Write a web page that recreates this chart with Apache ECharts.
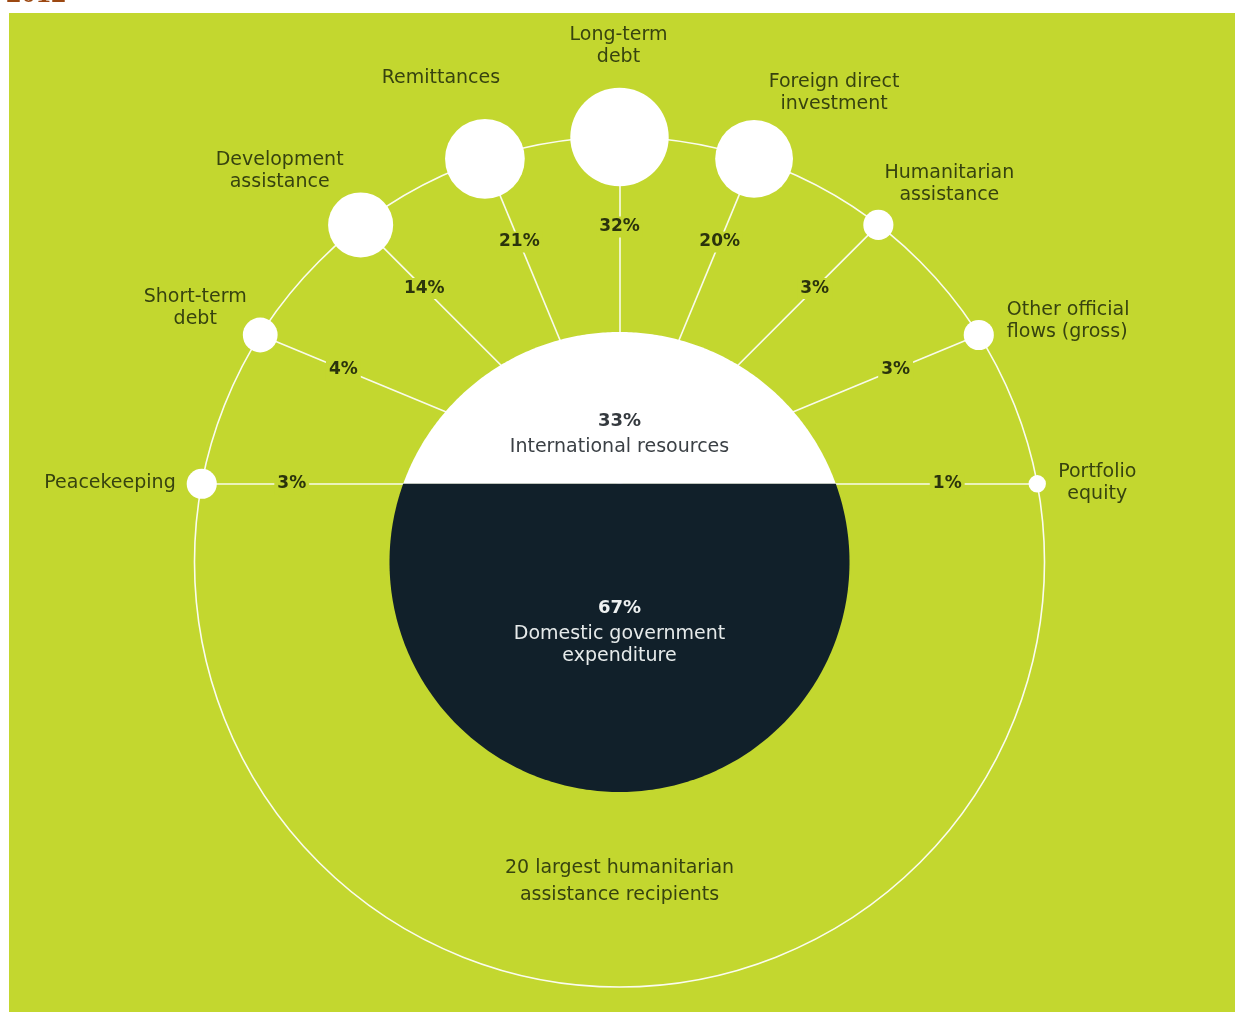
<!DOCTYPE html>
<html>
<head>
<meta charset="utf-8">
<title>Resource flows to the 20 largest humanitarian assistance recipients</title>
<style>
  html, body { margin: 0; padding: 0; background: #ffffff; }
  #chart { width: 1235px; height: 1012px; }
</style>
<script src="https://cdn.jsdelivr.net/npm/echarts@6/dist/echarts.min.js"></script>
</head>
<body>
<div id="chart"></div>
<script>
// ---- data -------------------------------------------------------------
const yearLabel = '2012';
const flowNames = [
  'Peacekeeping',
  'Short-term\ndebt',
  'Development\nassistance',
  'Remittances',
  'Long-term\ndebt',
  'Foreign direct\ninvestment',
  'Humanitarian\nassistance',
  'Other official\nflows (gross)',
  'Portfolio\nequity'
];
const flowShares = [3, 4, 14, 21, 32, 20, 3, 3, 1];          // % of international resources
const splitNames = ['International resources', 'Domestic government\nexpenditure'];
const splitShares = [33, 67];                                 // % of total resources
const footerLabel = '20 largest humanitarian\nassistance recipients';

// ---- layout & style ---------------------------------------------------
const GREEN = '#c3d72f';
const NAVY = '#11202a';
const INK = '#37430f';
const FONT = '"DejaVu Sans", sans-serif';

const CORE_R = 230;       // radius of the central resource circle
const RING_R = 425;       // radius of the outer ring carrying the bubbles
const NODE_K = 8.7;       // bubble radius per sqrt(percentage point)
const TAG_BACK = 90;      // percentage tag sits this far before its bubble centre

// the white cap takes the international share of the circle's height
const chordY = CORE_R - 2 * CORE_R * splitShares[0] / 100;
const hub = [0, chordY];  // spokes fan out from the middle of the chord

// caption placement of each flow relative to its bubble (screen px)
const captionPlacement = [
  { position: 'left', distance: 11, align: 'right', offset: [0, -1] },
  { offset: [-65, -27] },
  { offset: [-81, -54] },
  { offset: [-44, -81] },
  { offset: [-1, -91] },
  { offset: [80, -66] },
  { offset: [71, -41] },
  { offset: [28, -14], align: 'left' },
  { offset: [60, -1] }
];
// vertical position of the two captions inside the circle
const coreTextY = [chordY + (CORE_R - chordY) / 3, -68];
const footerY = -320;

// ---- geometry: spokes at equal angles, bubbles where they meet the ring --
const n = flowShares.length;
const flowPoints = flowShares.map((v, i) => {
  const a = Math.PI - i * Math.PI / (n - 1);
  const c = Math.cos(a), s = Math.sin(a);
  const t = -chordY * s + Math.sqrt(RING_R * RING_R - chordY * chordY * c * c);
  const tt = t - TAG_BACK;
  return { x: c * t, y: chordY + s * t, tx: c * tt, ty: chordY + s * tt };
});

const chart = echarts.init(document.getElementById('chart'), null, { renderer: 'canvas' });

// invisible anchor used by the text-only scatter series
const textAnchor = { symbol: 'circle', symbolSize: 0, itemStyle: { color: GREEN, opacity: 1 } };

const option = {
  animation: false,
  backgroundColor: '#ffffff',
  grid: { left: 0, right: 0, top: 0, bottom: 0 },
  xAxis: { type: 'value', min: -619.5, max: 615.5, show: false },
  yAxis: { type: 'value', min: -450, max: 562, show: false },
  graphic: [
    { type: 'rect', z: -100, silent: true,
      shape: { x: 9, y: 13, width: 1226, height: 999 },
      style: { fill: GREEN } },
    { type: 'text', z: 100, x: 6, y: -21, silent: true,
      style: { text: yearLabel, font: 'bold 30px "Liberation Serif", serif', fill: '#9c4812' } }
  ],
  series: [
    // outer ring
    {
      type: 'custom', z: 1, silent: true,
      coordinateSystem: 'cartesian2d',
      data: [[0, 0, RING_R]],
      renderItem: (params, api) => {
        const c = api.coord([0, 0]);
        const r = api.size([api.value(2), 0])[0];
        return {
          type: 'circle',
          shape: { cx: c[0], cy: c[1], r: r },
          style: { fill: 'transparent', stroke: 'rgba(255,255,255,0.92)', lineWidth: 1.6 }
        };
      }
    },
    // spokes
    {
      type: 'lines', z: 2, silent: true,
      coordinateSystem: 'cartesian2d',
      data: flowPoints.map(p => ({ coords: [hub, [p.x, p.y]] })),
      lineStyle: { color: '#ffffff', width: 1.6, opacity: 0.9 }
    },
    // central circle split into international (top) and domestic (bottom)
    {
      type: 'custom', z: 3, silent: true,
      coordinateSystem: 'cartesian2d',
      data: splitShares.map((v, i) => [0, 0, v, i]),
      renderItem: (params, api) => {
        const i = api.value(3);
        let before = 0;
        for (let k = 0; k < i; k++) before += splitShares[k];
        const yTop = CORE_R - 2 * CORE_R * before / 100;
        const yBot = CORE_R - 2 * CORE_R * (before + api.value(2)) / 100;
        const aTop = Math.asin(Math.max(-1, Math.min(1, yTop / CORE_R)));
        const aBot = Math.asin(Math.max(-1, Math.min(1, yBot / CORE_R)));
        const steps = 120;
        const pts = [];
        for (let k = 0; k <= steps; k++) {
          const a = aTop + (aBot - aTop) * k / steps;
          pts.push(api.coord([CORE_R * Math.cos(a), CORE_R * Math.sin(a)]));
        }
        for (let k = 0; k <= steps; k++) {
          const a = (Math.PI - aBot) + (aBot - aTop) * k / steps;
          pts.push(api.coord([CORE_R * Math.cos(a), CORE_R * Math.sin(a)]));
        }
        return {
          type: 'polygon',
          shape: { points: pts },
          style: { fill: i === 0 ? '#ffffff' : NAVY }
        };
      }
    },
    // bubbles, area proportional to each flow's share
    {
      type: 'scatter', z: 4, silent: true,
      symbol: 'circle',
      symbolSize: val => 2 * NODE_K * Math.sqrt(val[2]),
      itemStyle: { color: '#ffffff', opacity: 1 },
      label: {
        show: true, position: 'inside', formatter: '{b}',
        align: 'center', verticalAlign: 'middle',
        color: INK, fontFamily: FONT, fontSize: 19, lineHeight: 22
      },
      data: flowPoints.map((p, i) => ({
        name: flowNames[i],
        value: [p.x, p.y, flowShares[i]],
        label: Object.assign({}, captionPlacement[i])
      }))
    },
    // percentage tags on the spokes
    Object.assign({
      type: 'scatter', z: 5, silent: true,
      label: {
        show: true, position: 'inside',
        formatter: p => p.value[2] + '%',
        color: '#2b340c', fontFamily: FONT, fontSize: 17, fontWeight: 'bold',
        backgroundColor: GREEN, padding: [2, 3]
      },
      data: flowPoints.map((p, i) => ({ value: [p.tx, p.ty, flowShares[i]] }))
    }, textAnchor),
    // captions inside the circle and under it
    Object.assign({
      type: 'scatter', z: 6, silent: true,
      label: {
        show: true, position: 'inside', align: 'center', verticalAlign: 'middle',
        fontFamily: FONT
      },
      data: [
        {
          value: [0, coreTextY[0]],
          label: {
            formatter: '{p|' + splitShares[0] + '%}\n{t|' + splitNames[0] + '}',
            rich: {
              p: { fontFamily: FONT, fontSize: 18, fontWeight: 'bold', color: '#34393e', lineHeight: 28, align: 'center' },
              t: { fontFamily: FONT, fontSize: 19, color: '#3b4045', lineHeight: 24, align: 'center' }
            }
          }
        },
        {
          value: [0, coreTextY[1]],
          label: {
            formatter: '{p|' + splitShares[1] + '%}\n' +
              splitNames[1].split('\n').map(s => '{t|' + s + '}').join('\n'),
            rich: {
              p: { fontFamily: FONT, fontSize: 18, fontWeight: 'bold', color: '#eef1f1', lineHeight: 30, align: 'center' },
              t: { fontFamily: FONT, fontSize: 19, color: '#e6eaea', lineHeight: 22, align: 'center' }
            }
          }
        },
        {
          value: [0, footerY],
          label: {
            formatter: footerLabel,
            color: INK, fontSize: 19, lineHeight: 27
          }
        }
      ]
    }, textAnchor)
  ]
};

chart.setOption(option);
</script>
</body>
</html>
